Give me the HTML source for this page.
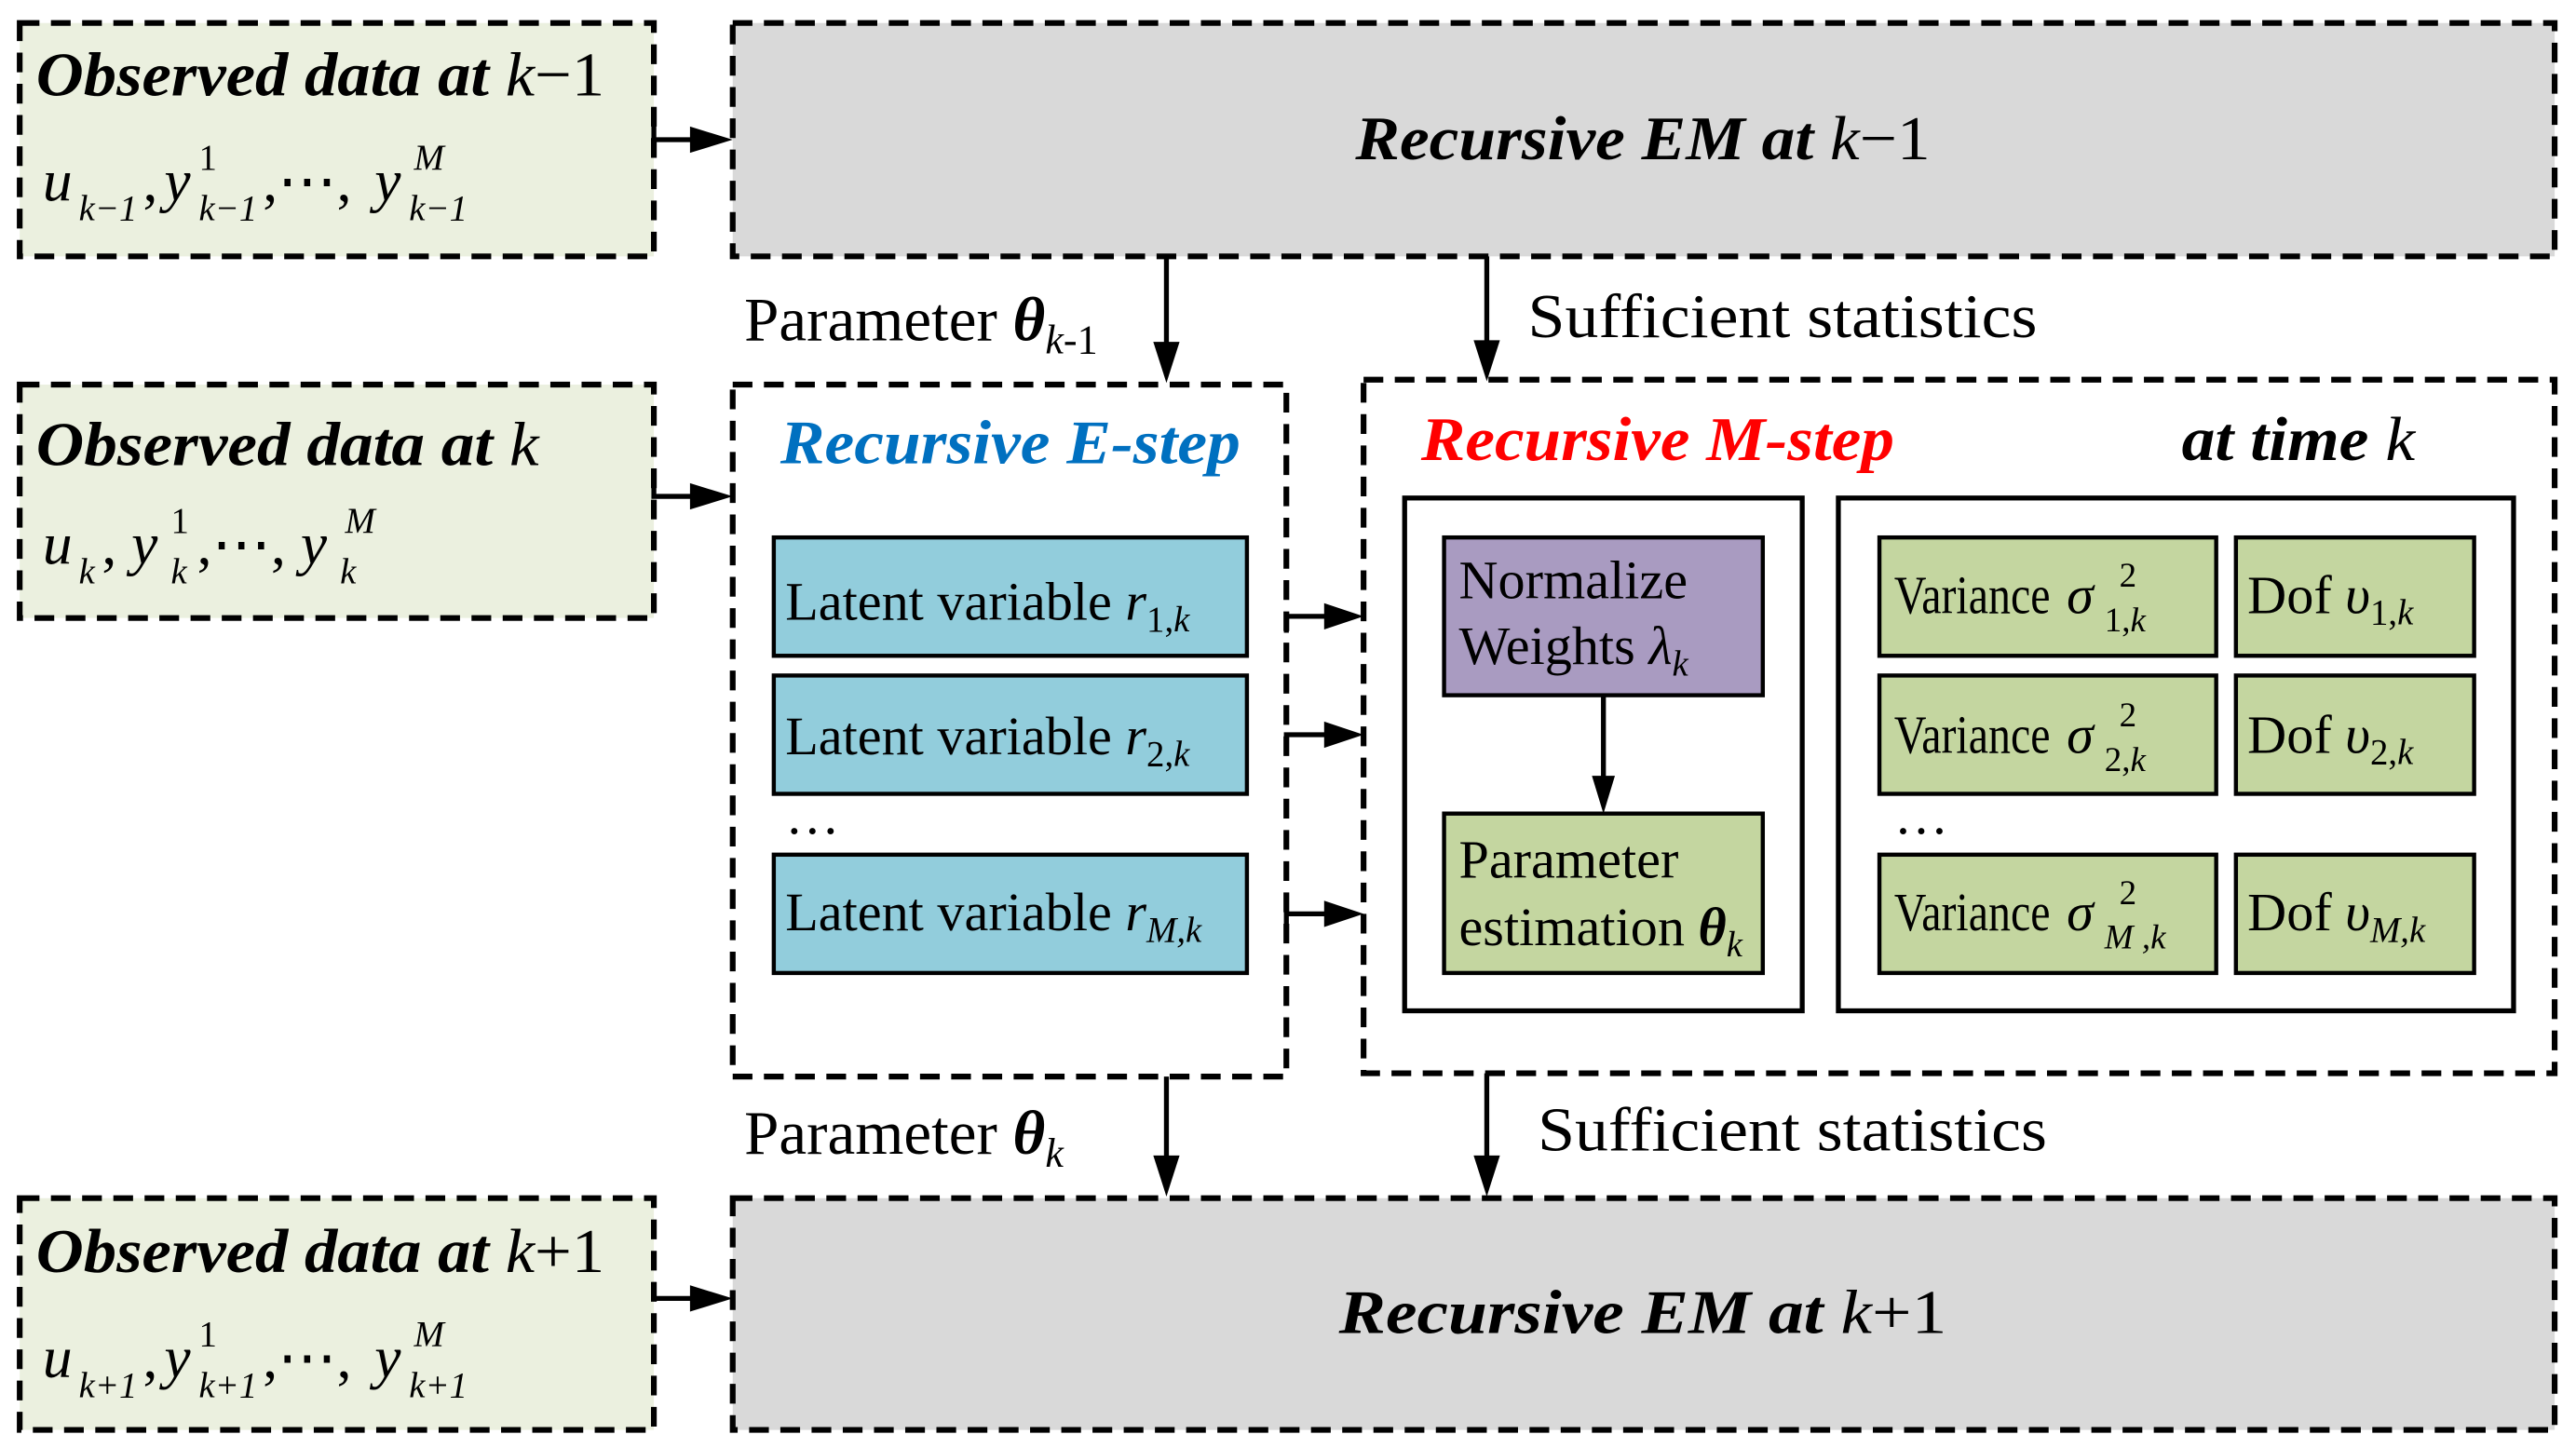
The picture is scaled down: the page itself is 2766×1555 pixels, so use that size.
<!DOCTYPE html>
<html><head><meta charset="utf-8"><style>html,body{margin:0;padding:0;background:#fff}svg{display:block}text{font-family:"Liberation Serif",serif}</style></head><body>
<svg width="2766" height="1555" viewBox="0 0 1568 881" preserveAspectRatio="none" xmlns="http://www.w3.org/2000/svg">
<g stroke="#000" stroke-width="3.5" stroke-dasharray="12,7">
<rect x="12" y="14" width="386" height="142" fill="#ebf0df"/>
<rect x="446" y="14" width="1109" height="142" fill="#d9d9d9"/>
<rect x="12" y="234" width="386" height="142" fill="#ebf0df"/>
<rect x="446" y="234" width="337" height="421" fill="#fff"/>
<rect x="830" y="231" width="725" height="422" fill="#fff"/>
<rect x="12" y="729" width="386" height="141" fill="#ebf0df"/>
<rect x="446" y="729" width="1109" height="141" fill="#d9d9d9"/>
</g>
<g stroke="#000" stroke-width="3" fill="none">
<rect x="855" y="303" width="242" height="312"/>
<rect x="1119" y="303" width="411" height="312"/>
</g>
<g stroke="#000" stroke-width="2.5">
<rect x="471" y="327" width="288" height="72" fill="#92cddc"/>
<rect x="471" y="411" width="288" height="72" fill="#92cddc"/>
<rect x="471" y="520" width="288" height="72" fill="#92cddc"/>
<rect x="879" y="327" width="194" height="96" fill="#a99bc1"/>
<rect x="879" y="495" width="194" height="97" fill="#c4d6a0"/>
<rect x="1144" y="327" width="205" height="72" fill="#c4d6a0"/>
<rect x="1144" y="411" width="205" height="72" fill="#c4d6a0"/>
<rect x="1144" y="520" width="205" height="72" fill="#c4d6a0"/>
<rect x="1361" y="327" width="145" height="72" fill="#c4d6a0"/>
<rect x="1361" y="411" width="145" height="72" fill="#c4d6a0"/>
<rect x="1361" y="520" width="145" height="72" fill="#c4d6a0"/>
</g>
<g stroke="#000" stroke-width="3" fill="none">
<path d="M398,75 V85 H422"/>
<path d="M398,292 V302 H422"/>
<path d="M398,780 V790 H422"/>
<path d="M710,156 V210"/>
<path d="M905,156 V209"/>
<path d="M710,655 V705"/>
<path d="M905,653 V705"/>
<path d="M783,385 V375 H808"/>
<path d="M783,457 V447 H808"/>
<path d="M783,566 V556 H808"/>
<path d="M976,423 V474"/>
</g>
<g fill="#000">
<path d="M446,85 L420,77 L420,93 z"/>
<path d="M446,302 L420,294 L420,310 z"/>
<path d="M446,790 L420,782 L420,798 z"/>
<path d="M830,375 L806,367 L806,383 z"/>
<path d="M830,447 L806,439 L806,455 z"/>
<path d="M830,556 L806,548 L806,564 z"/>
<path d="M710,233 L702,208 L718,208 z"/>
<path d="M905,232 L897,207 L913,207 z"/>
<path d="M710,728 L702,703 L718,703 z"/>
<path d="M905,728 L897,703 L913,703 z"/>
<path d="M976,495 L969,472 L983,472 z"/>
</g>
<g font-size="38" font-weight="bold" font-style="italic">
<text x="22" y="58" textLength="346" lengthAdjust="spacingAndGlyphs">Observed data at <tspan font-weight="normal">k</tspan><tspan font-weight="normal" font-style="normal">−1</tspan></text>
<text x="22" y="283" textLength="306" lengthAdjust="spacingAndGlyphs">Observed data at <tspan font-weight="normal">k</tspan></text>
<text x="22" y="774" textLength="346" lengthAdjust="spacingAndGlyphs">Observed data at <tspan font-weight="normal">k</tspan><tspan font-weight="normal" font-style="normal">+1</tspan></text>
<text x="825" y="97" textLength="350" lengthAdjust="spacingAndGlyphs">Recursive EM at <tspan font-weight="normal">k</tspan><tspan font-style="normal" font-weight="normal">−1</tspan></text>
<text x="815" y="811" textLength="370" lengthAdjust="spacingAndGlyphs">Recursive EM at <tspan font-weight="normal">k</tspan><tspan font-style="normal" font-weight="normal">+1</tspan></text>
<text x="475" y="282" fill="#0070c0" textLength="280" lengthAdjust="spacingAndGlyphs">Recursive E-step</text>
<text x="865" y="280" fill="#ff0000" textLength="288" lengthAdjust="spacingAndGlyphs">Recursive M-step</text>
<text x="1328" y="280" textLength="142" lengthAdjust="spacingAndGlyphs">at time <tspan font-weight="normal">k</tspan></text>
</g>
<g font-style="italic" font-size="36">
<text x="26" y="122">u</text><text x="48" y="134" font-size="22">k−1</text><text x="87" y="122" font-style="normal">,</text>
<text x="100" y="122">y</text><text x="121" y="103" font-size="22" font-style="normal">1</text><text x="121" y="134" font-size="22">k−1</text><text x="160" y="122" font-style="normal">,⋯,</text>
<text x="228" y="122">y</text><text x="252" y="103" font-size="22">M</text><text x="249" y="134" font-size="22">k−1</text>

<text x="26" y="343">u</text><text x="48" y="355" font-size="22">k</text><text x="62" y="343" font-style="normal">,</text>
<text x="80" y="343">y</text><text x="104" y="324" font-size="22" font-style="normal">1</text><text x="104" y="355" font-size="22">k</text><text x="120" y="343" font-style="normal">,⋯,</text>
<text x="183" y="343">y</text><text x="210" y="324" font-size="22">M</text><text x="207" y="355" font-size="22">k</text>

<text x="26" y="838">u</text><text x="48" y="850" font-size="22">k+1</text><text x="87" y="838" font-style="normal">,</text>
<text x="100" y="838">y</text><text x="121" y="819" font-size="22" font-style="normal">1</text><text x="121" y="850" font-size="22">k+1</text><text x="160" y="838" font-style="normal">,⋯,</text>
<text x="228" y="838">y</text><text x="252" y="819" font-size="22">M</text><text x="249" y="850" font-size="22">k+1</text>
</g>
<g font-size="38">
<text x="453" y="207">Parameter <tspan font-weight="bold" font-style="italic">θ</tspan><tspan font-size="25" dy="8"><tspan font-style="italic">k</tspan>-1</tspan></text>
<text x="930" y="205" textLength="310" lengthAdjust="spacingAndGlyphs">Sufficient statistics</text>
<text x="453" y="702">Parameter <tspan font-weight="bold" font-style="italic">θ</tspan><tspan font-size="25" dy="8" font-style="italic">k</tspan></text>
<text x="936" y="700" textLength="310" lengthAdjust="spacingAndGlyphs">Sufficient statistics</text>
</g>
<g font-size="33">
<text x="478" y="377">Latent variable <tspan font-style="italic">r</tspan><tspan font-size="22" dy="7">1,<tspan font-style="italic">k</tspan></tspan></text>
<text x="478" y="459">Latent variable <tspan font-style="italic">r</tspan><tspan font-size="22" dy="7">2,<tspan font-style="italic">k</tspan></tspan></text>
<text x="478" y="507">…</text>
<text x="478" y="566">Latent variable <tspan font-style="italic">r</tspan><tspan font-size="22" dy="7" font-style="italic">M,k</tspan></text>
<text x="888" y="364">Normalize</text>
<text x="888" y="404">Weights <tspan font-style="italic">λ</tspan><tspan font-size="22" dy="7" font-style="italic">k</tspan></text>
<text x="888" y="534">Parameter</text>
<text x="888" y="575">estimation <tspan font-weight="bold" font-style="italic">θ</tspan><tspan font-size="22" dy="7" font-style="italic">k</tspan></text>
<text x="1153" y="373" textLength="95" lengthAdjust="spacingAndGlyphs">Variance</text><text x="1258" y="373" font-style="italic">σ</text><text x="1281" y="384" font-size="21">1,<tspan font-style="italic">k</tspan></text>
<text x="1290" y="357" font-size="21">2</text>
<text x="1153" y="458" textLength="95" lengthAdjust="spacingAndGlyphs">Variance</text><text x="1258" y="458" font-style="italic">σ</text><text x="1281" y="469" font-size="21">2,<tspan font-style="italic">k</tspan></text>
<text x="1290" y="442" font-size="21">2</text>
<text x="1153" y="507">…</text>
<text x="1153" y="566" textLength="95" lengthAdjust="spacingAndGlyphs">Variance</text><text x="1258" y="566" font-style="italic">σ</text><text x="1281" y="577" font-size="21" font-style="italic">M ,k</text>
<text x="1290" y="550" font-size="21">2</text>
<text x="1368" y="373">Dof <tspan font-style="italic">υ</tspan><tspan font-size="22" dy="7">1,<tspan font-style="italic">k</tspan></tspan></text>
<text x="1368" y="458">Dof <tspan font-style="italic">υ</tspan><tspan font-size="22" dy="7">2,<tspan font-style="italic">k</tspan></tspan></text>
<text x="1368" y="566">Dof <tspan font-style="italic">υ</tspan><tspan font-size="22" dy="7" font-style="italic">M,k</tspan></text>
</g>
</svg>
</body></html>
